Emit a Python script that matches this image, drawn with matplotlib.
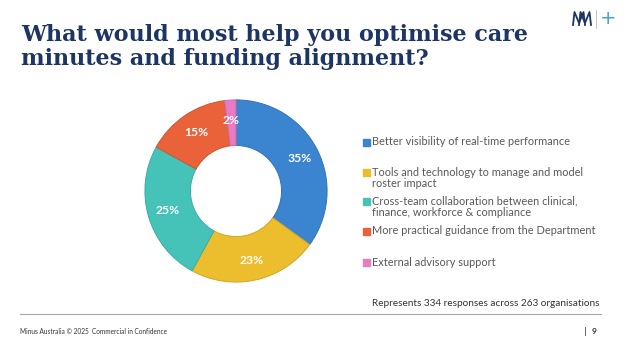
import matplotlib.pyplot as plt
from matplotlib.colors import to_rgb

# data
labels = [
    ["Better visibility of real-time performance"],
    ["Tools and technology to manage and model", "roster impact"],
    ["Cross-team collaboration between clinical,", "finance, workforce & compliance"],
    ["More practical guidance from the Department"],
    ["External advisory support"],
]
values = [35, 23, 25, 15, 2]
colors = ["#3a84d0", "#ecbd2d", "#46c3b9", "#e9623a", "#e87bc2"]
legend_y = [142, 172, 201, 231, 262]  # pixel row of the first line of each entry

title_lines = ["What would most help you optimise care",
               "minutes and funding alignment?"]
note = "Represents 334 responses across 263 organisations"
footer = "Minus Australia \u00a9 2025  Commercial in Confidence"

W, H = 624, 352
fig = plt.figure(figsize=(W / 100, H / 100), dpi=100)
fig.patch.set_facecolor("white")

def fx(px):
    return px / W

def fy(py):
    return 1 - py / H

# donut
cx, cy, r = 236, 191, 92
ax = fig.add_axes([fx(cx - r), fy(cy + r), 2 * r / W, 2 * r / H])
wedges, texts, autotexts = ax.pie(
    values, colors=colors, startangle=90, counterclock=False,
    radius=1, autopct="%d%%", pctdistance=0.78,
    wedgeprops=dict(width=0.5, linewidth=0.7),
    textprops=dict(color="white", fontsize=8.7, fontweight="bold", family="Lato"),
)
for w, c in zip(wedges, colors):
    w.set_edgecolor(tuple(v * 0.88 for v in to_rgb(c)))
ax.set_xlim(-1.01, 1.01)
ax.set_ylim(-1.01, 1.01)
ax.set_aspect("auto")
ax.axis("off")

# title
for i, line in enumerate(title_lines):
    fig.text(fx(21), fy(41 + 24 * i), line, ha="left", va="baseline",
             fontsize=16, fontweight="bold", family="DejaVu Serif",
             color="#1d3564")

# logo (two interlaced M strokes, divider, plus sign)
for dx in (0, 6):
    xs = [573 + dx, 574.5 + dx, 579 + dx, 583.5 + dx, 585 + dx]
    ys = [25, 12, 23, 12, 25]
    fig.add_artist(plt.Line2D([fx(x) for x in xs], [fy(y) for y in ys],
                              color="#1d3564", lw=1.3))
fig.add_artist(plt.Line2D([fx(596), fx(596)], [fy(10), fy(28)],
                          color="#bbbbbb", lw=0.6))
fig.text(fx(608), fy(18), "+", ha="center", va="center", fontsize=14,
         color="#4aa3d8")

# legend
for lines, col, py in zip(labels, colors, legend_y):
    fig.patches.append(plt.Rectangle((fx(363), fy(py + 3.5)), fx(7), 7 / H,
                                     transform=fig.transFigure, color=col))
    for j, line in enumerate(lines):
        fig.text(fx(372), fy(py + 11.5 * j), line, ha="left", va="center",
                 fontsize=7.9, family="Lato", color="#595959")

# note + footer
fig.text(fx(599), fy(304), note, ha="right", va="center", fontsize=7.2,
         family="Lato", color="#333333")
fig.add_artist(plt.Line2D([fx(20), fx(601)], [fy(314), fy(314)],
                          color="#a6a6a6", lw=0.8))
fig.text(fx(20), fy(332), footer, ha="left", va="center", fontsize=4.7,
         family="Lato", color="#333333")
fig.text(fx(585), fy(332), "|", ha="center", va="center", fontsize=6,
         color="#333333")
fig.text(fx(594), fy(332), "9", ha="center", va="center", fontsize=6,
         fontweight="bold", family="Lato", color="#333333")

fig.savefig("out.png", dpi=100)
